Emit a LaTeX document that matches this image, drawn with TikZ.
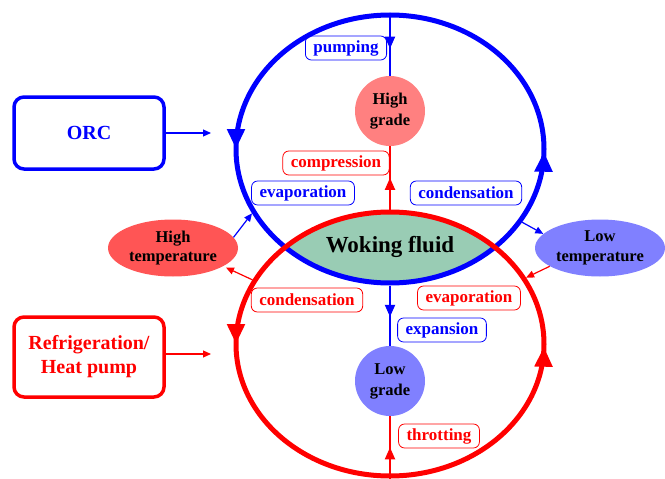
\documentclass[tikz,border=0pt]{standalone}
\usepackage{fontspec}
\setmainfont{Liberation Serif}
\usepackage{tikz}
\usetikzlibrary{arrows.meta}
\usetikzlibrary{shapes}
\usetikzlibrary{decorations.markings}
\definecolor{FluidGreen}{RGB}{153,204,180}
\definecolor{HotRed}{RGB}{255,85,85}
\definecolor{WarmRed}{RGB}{255,128,128}
\definecolor{CoolBlue}{RGB}{128,128,255}

\begin{document}
\begin{tikzpicture}[
 x=1pt, y=-1pt,
 loopring/.style = {draw, ellipse, line width=5pt, minimum width=308pt, inner sep=0pt,
                    postaction={decorate, decoration={markings,
                      mark=at position 0.5 with {\arrow{Triangle[length=20pt,width=17pt]}},
                      mark=at position 0.997 with {\arrow{Triangle[length=20pt,width=17pt]}}}}},
 tag/.style = {draw, rounded corners=6pt, line width=0.8pt, inner xsep=8pt, minimum height=24pt,
               font=\bfseries\fontsize{17}{18}\selectfont},
 grade/.style = {circle, minimum size=70pt, inner sep=0pt, align=center,
                 font=\bfseries\fontsize{16.5}{21}\selectfont},
 temp/.style = {ellipse, minimum width=130pt, minimum height=57pt, inner sep=0pt, align=center,
                font=\bfseries\fontsize{16.5}{19.5}\selectfont},
 system/.style = {draw, rounded corners=10pt, line width=3.5pt, minimum width=150pt, align=center,
                  font=\bfseries\fontsize{20}{24}\selectfont},
 link/.style = {line width=2pt, postaction={decorate, decoration={markings,
                  mark=at position #1 with {\arrow{Triangle[length=12pt,width=10pt]}}}}},
 feed/.style = {line width=1.2pt, -{Triangle[length=8pt,width=7pt]}},
                        ]
    \useasboundingbox (0,0) rectangle (665,479);

    % shared part of both cycles
    \begin{scope}
      \clip (390,149) ellipse [x radius=154, y radius=134];
      \fill [FluidGreen] (390,344) ellipse [x radius=154, y radius=132];
    \end{scope}

    \node [loopring, blue, minimum height=268pt] (orcloop) at (390,149) {};
    \node [loopring, red, minimum height=264pt] (hploop) at (390,344) {};
    \node [font=\bfseries\fontsize{23}{26}\selectfont] (fluid) at (390,247) {Woking fluid};

    \node [grade, fill=WarmRed] (hg) at (390,111) {High\\grade};
    \node [grade, fill=CoolBlue] (lg) at (390,381) {Low\\grade};

    \node [tag, blue] (pump) at (346,48) {pumping};
    \node [tag, red] (comp) at (336,163) {compression};
    \node [tag, blue] (evapb) at (303,193) {evaporation};
    \node [tag, blue] (condb) at (466,193) {condensation};
    \node [tag, red] (condr) at (307,300) {condensation};
    \node [tag, red] (evapr) at (469,298) {evaporation};
    \node [tag, blue] (expn) at (442,330) {expansion};
    \node [tag, red] (thrt) at (439,436) {throtting};

    \node [temp, fill=HotRed] (hot) at (173,248) {High\\temperature};
    \node [temp, fill=CoolBlue] (cold) at (600,248) {Low\\temperature};

    \node [system, blue, minimum height=72pt] (orc) at (89,133) {ORC};
    \node [system, red, minimum height=80pt] (hpump) at (89,357) {Refrigeration/\\Heat pump};
    \coordinate (orcin) at (211,133);
    \coordinate (hpin) at (211,354);

    \draw [link=0.57, blue] (orcloop.north) -- (hg);
    \draw [link=0.5, red] (hploop.north) -- (hg);
    \draw [link=0.52, blue] (orcloop.south) -- (lg);
    \draw [link=0.5, red] (hploop.south) -- (lg);

    \draw [feed, blue] (orc) -- (orcin);
    \draw [feed, red] (hpump.east |- hpin) -- (hpin);
    \draw [feed, blue] (hot.10) -- (orcloop.205);
    \draw [feed, red, shorten >=3pt] (hploop.155) -- (hot.340);
    \draw [feed, blue] (orcloop.331) -- (cold.166);
    \draw [feed, red] (cold.200) -- (hploop.26);

\end{tikzpicture}
\end{document}
